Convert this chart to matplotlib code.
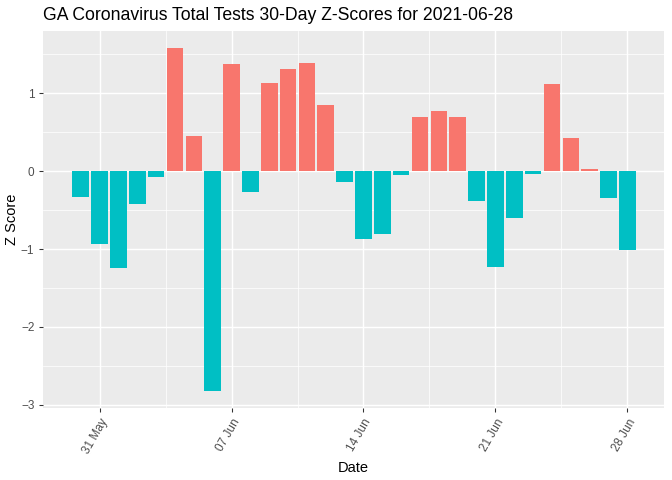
import numpy as np
import pandas as pd
import matplotlib.pyplot as plt
import matplotlib.dates as mdates

# =====================================================
# Data
# =====================================================

dates = pd.date_range("2021-05-30", "2021-06-28", freq="D")

z_scores = [-0.33, -0.94, -1.24, -0.42, -0.07, 1.58, 0.45, -2.82, 1.38, -0.27,
            1.13, 1.31, 1.39, 0.85, -0.14, -0.87, -0.81, -0.05, 0.70, 0.77,
            0.70, -0.38, -1.23, -0.60, -0.03, 1.12, 0.42, 0.03, -0.34, -1.01]

tick_dates = pd.to_datetime(["2021-05-31", "2021-06-07", "2021-06-14",
                             "2021-06-21", "2021-06-28"])

title = "GA Coronavirus Total Tests 30-Day Z-Scores for 2021-06-28"

# =====================================================
# Style (ggplot2 grey theme look)
# =====================================================

plt.rcParams['font.family'] = ['Liberation Sans', 'DejaVu Sans']

pos_col = "#F8766D"
neg_col = "#00BFC4"
colors = [pos_col if z > 0 else neg_col for z in z_scores]

fig = plt.figure(figsize=(7, 5), dpi=96)
ax = fig.add_axes([43 / 672, 72 / 480, (664 - 43) / 672, (449 - 72) / 480])
ax.set_facecolor("#EBEBEB")

ax.bar(dates, z_scores, width=0.88, color=colors, zorder=3)

# axis limits, matched to the reference panel
x0 = mdates.date2num(dates[0])
x1 = mdates.date2num(dates[-1])
ax.set_xlim(x0 - 2.0, x1 + 1.94)
lo, hi = min(min(z_scores), 0), max(max(z_scores), 0)
dy = (hi - lo) * 0.05
ax.set_ylim(lo - dy, hi + dy)

# ticks
ax.set_xticks(tick_dates)
ax.xaxis.set_major_formatter(mdates.DateFormatter("%d %b"))
minor_x = tick_dates[:-1] + pd.Timedelta(hours=84)
ax.set_xticks(minor_x, minor=True)
ax.set_yticks([-3, -2, -1, 0, 1])
ax.set_yticks([-2.5, -1.5, -0.5, 0.5, 1.5], minor=True)

ax.grid(which="major", color="white", linewidth=1.1, zorder=0)
ax.grid(which="minor", color="white", linewidth=0.55, zorder=0)

ax.tick_params(which="major", length=3, width=0.8, color="#333333",
               labelcolor="#4D4D4D", labelsize=8.8)
ax.tick_params(which="minor", length=0)
for lab in ax.get_xticklabels():
    lab.set_rotation(60)
    lab.set_ha("right")
    lab.set_rotation_mode("anchor")

for s in ax.spines.values():
    s.set_visible(False)

ax.set_xlabel("Date", fontsize=11, color="black")
ax.set_ylabel("Z Score", fontsize=11, color="black", labelpad=1)
ax.set_title(title, fontsize=13.2, loc="left", pad=8)

fig.savefig("out.png", dpi=96)
